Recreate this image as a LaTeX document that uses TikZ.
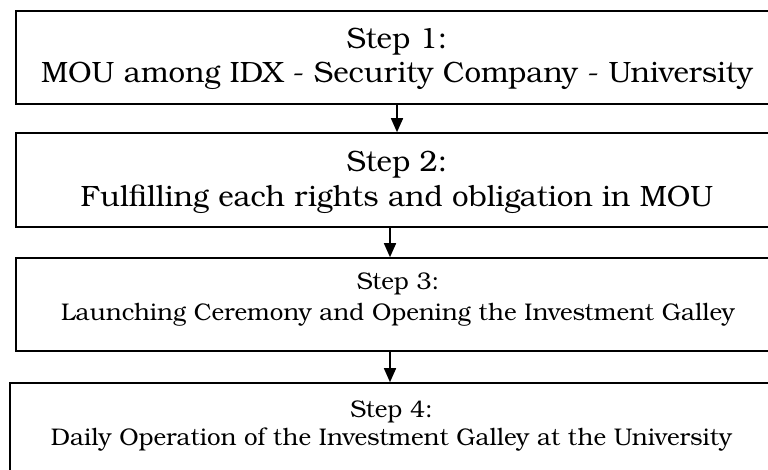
\documentclass[tikz,border=0pt]{standalone}
\usepackage{fontspec}
\setmainfont{TeX Gyre Bonum}
\usetikzlibrary{arrows.meta}
\begin{document}
\begin{tikzpicture}[x=1pt,y=-1pt,
  stepbox/.style={draw, rectangle, line width=1.6pt, inner sep=0pt},
  bigtext/.style={font=\fontsize{29.4}{34}\selectfont, anchor=base, inner sep=0pt},
  smalltext/.style={font=\fontsize{24.1}{30}\selectfont, anchor=base, inner sep=0pt},
  arr/.style={line width=1.6pt, -{Triangle[width=12pt,length=14pt]}}]
\useasboundingbox (0,0) rectangle (768,470);
\node[stepbox, minimum width=760pt, minimum height=93pt] (b1) at (396,57.5) {};
\node[stepbox, minimum width=760pt, minimum height=94pt] (b2) at (396,180) {};
\node[stepbox, minimum width=760pt, minimum height=93pt] (b3) at (396,304.5) {};
\node[stepbox, minimum width=766pt, minimum height=97pt] (b4) at (393,431.5) {};
\node[bigtext] (t1a) at (397,49) {Step 1:};
\node[bigtext] (t1b) at (397,83) {MOU among IDX - Security Company - University};
\node[bigtext] (t2a) at (397,172) {Step 2:};
\node[bigtext] (t2b) at (397,207) {Fulfilling each rights and obligation in MOU};
\node[smalltext] (t3a) at (398,290) {Step 3:};
\node[smalltext] (t3b) at (398,320) {Launching Ceremony and Opening the Investment Galley};
\node[smalltext] (t4a) at (391.5,417) {Step 4:};
\node[smalltext] (t4b) at (391.5,445) {Daily Operation of the Investment Galley at the University};
\coordinate (a2) at (390,0);
\draw[arr] (t1b |- b1.south) -- (t1b |- b2.north);
\draw[arr] (a2 |- b2.south) -- (a2 |- b3.north);
\draw[arr] (a2 |- b3.south) -- (a2 |- b4.north);
\end{tikzpicture}
\end{document}
